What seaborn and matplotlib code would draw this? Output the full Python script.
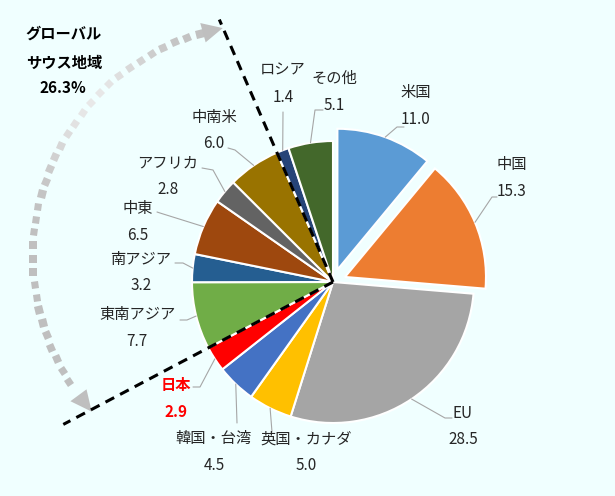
import numpy as np
import matplotlib
matplotlib.use('Agg')
import matplotlib.pyplot as plt
from matplotlib.markers import MarkerStyle
from matplotlib.transforms import Affine2D
from matplotlib.patches import Polygon
import seaborn as sns

# =====================================================
# DATA
# =====================================================

regions = ['米国', '中国', 'EU', '英国・カナダ', '韓国・台湾', '日本',
           '東南アジア', '南アジア', '中東', 'アフリカ', '中南米', 'ロシア', 'その他']
shares = [11.0, 15.3, 28.5, 5.0, 4.5, 2.9, 7.7, 3.2, 6.5, 2.8, 6.0, 1.4, 5.1]
exploded = ['米国', '中国']
global_south = ['東南アジア', '南アジア', '中東', 'アフリカ', '中南米']
global_south_share = 26.3

colors = ['#5B9BD5', '#ED7D31', '#A5A5A5', '#FFC000', '#4472C4', '#FF0000',
          '#70AD47', '#255E91', '#9E480E', '#636363', '#997300', '#264478', '#43682B']

# =====================================================
# LAYOUT (pixels, y downwards)
# =====================================================

W, H = 615, 496
CENTER = (333, 282)
RADIUS = 141
EXPLODE_PX = 13
BG = '#F0FFFF'
TXT = '#262626'

# name label centre for every slice (value goes 27 px below)
label_pos = [(416, 93), (512, 165), (463, 413), (306, 439), (214, 438), (176, 385),
             (137, 314), (141, 259), (138, 208), (168, 163), (214, 117), (283, 70), (334, 78)]
# leader line: elbow point, end point
leader_pts = [((397, 127), (404, 127)), ((492, 197), (497, 197)), ((445, 418), (452, 418)),
              ((272, 432), (272, 432)), ((237, 423), (237, 423)), ((200, 387), (193, 387)),
              ((187, 320), (180, 320)), ((183, 263), (175, 263)), ((160, 213), (157, 212)),
              ((213, 170), (202, 168)), ((235, 150), (228, 148)), ((283, 112), (283, 112)),
              ((315, 110), (323, 110))]

sns.set_theme(style='white')
plt.rcParams['font.family'] = ['Noto Sans CJK JP', 'DejaVu Sans']

fig = plt.figure(figsize=(W / 100, H / 100), dpi=100, facecolor=BG)
ax = fig.add_axes([0, 0, 1, 1])
ax.set_facecolor(BG)

# matplotlib's explode is in data units here (pixels)
explode = [EXPLODE_PX if r in exploded else 0 for r in regions]
ax.pie(shares, colors=colors, explode=explode, startangle=-90, counterclock=True,
       center=CENTER, radius=RADIUS,
       wedgeprops=dict(edgecolor='white', linewidth=1.5))

ax.set_xlim(0, W)
ax.set_ylim(H, 0)
ax.set_aspect('equal')
ax.axis('off')

total = sum(shares)
cum = np.concatenate([[0], np.cumsum(shares)])

# -------------------------------------------------
# labels + leader lines
# -------------------------------------------------
for i, (name, v) in enumerate(zip(regions, shares)):
    theta = np.deg2rad(-90 + 360 * (cum[i] + v / 2) / total)
    off = explode[i]
    sx = CENTER[0] + (RADIUS + off) * np.cos(theta)
    sy = CENTER[1] + (RADIUS + off) * np.sin(theta)
    (ex, ey), (tx, ty) = leader_pts[i]
    ax.plot([sx, ex, tx], [sy, ey, ty], color='#A6A6A6', lw=0.8, zorder=1)

    lx, ly = label_pos[i]
    if name == '日本':
        kw = dict(color='#FF0000', fontweight='bold')
    else:
        kw = dict(color=TXT)
    ax.text(lx, ly, name, ha='center', va='center', fontsize=11, **kw)
    ax.text(lx, ly + 27, f'{v:.1f}', ha='center', va='center', fontsize=11, **kw)

# -------------------------------------------------
# dashed boundaries of the global south block
# -------------------------------------------------
i0 = regions.index(global_south[0])
i1 = regions.index(global_south[-1]) + 1
for idx, length in [(i0, 305), (i1, 286)]:
    th = np.deg2rad(-90 + 360 * cum[idx] / total)
    ax.plot([CENTER[0], CENTER[0] + length * np.cos(th)],
            [CENTER[1], CENTER[1] + length * np.sin(th)],
            color='black', lw=2.2, ls=(0, (3.2, 2.2)), zorder=5)

# -------------------------------------------------
# dotted arc with arrows
# -------------------------------------------------
ARC_C = (266, 257)
ARC_R = 233
n_dots = 34
for th_deg in np.linspace(147.5, 253.5, n_dots):
    th = np.deg2rad(th_deg)
    x = ARC_C[0] + ARC_R * np.cos(th)
    y = ARC_C[1] + ARC_R * np.sin(th)
    light = 0.75 + 0.16 * np.exp(-((th_deg - 222) / 18) ** 2)
    m = MarkerStyle('s', transform=Affine2D().rotate_deg(-th_deg))
    ax.plot(x, y, marker=m, ms=5.4, color=(light, light, light), mew=0, zorder=2)


def arrow_head(tip_deg, base_deg, half_w=10):
    t = np.deg2rad(tip_deg)
    b = np.deg2rad(base_deg)
    tip = (ARC_C[0] + ARC_R * np.cos(t), ARC_C[1] + ARC_R * np.sin(t))
    p1 = (ARC_C[0] + (ARC_R - half_w) * np.cos(b), ARC_C[1] + (ARC_R - half_w) * np.sin(b))
    p2 = (ARC_C[0] + (ARC_R + half_w) * np.cos(b), ARC_C[1] + (ARC_R + half_w) * np.sin(b))
    ax.add_patch(Polygon([tip, p1, p2], closed=True, facecolor='#BFBFBF', edgecolor='none', zorder=2))


arrow_head(259.3, 254.3)
arrow_head(138.4, 143.6)

# -------------------------------------------------
# global south caption
# -------------------------------------------------
ax.text(64, 34, 'グローバル', ha='center', va='center', fontsize=11, fontweight='bold', color='black')
ax.text(64, 63, 'サウス地域', ha='center', va='center', fontsize=11, fontweight='bold', color='black')
ax.text(63, 88, f'{global_south_share}%', ha='center', va='center', fontsize=11,
        fontweight='bold', color='black')

fig.savefig('out.png', dpi=100, facecolor=BG)
